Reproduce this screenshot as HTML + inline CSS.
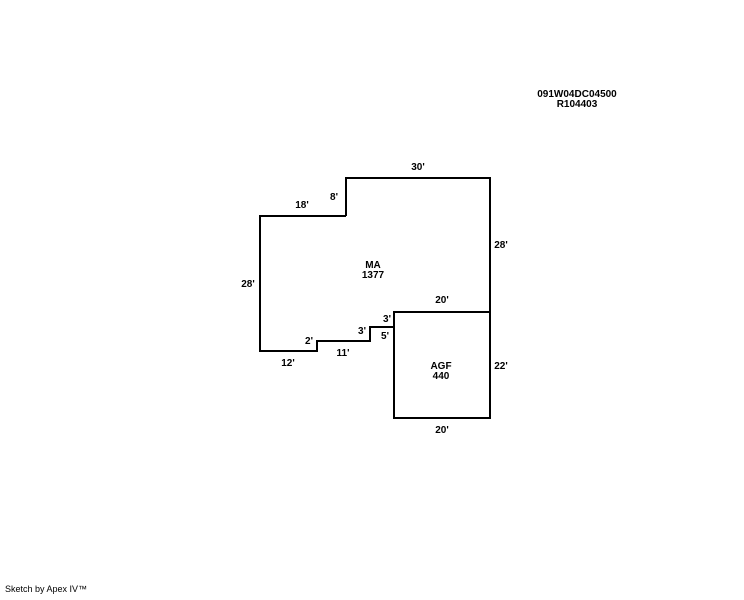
<!DOCTYPE html>
<html><head><style>
body{margin:0;background:#fff;width:744px;height:595px;overflow:hidden;}
svg text{font-family:"Liberation Sans",Arial,sans-serif;font-size:10px;font-weight:bold;fill:#000;}
</style></head><body>
<svg width="744" height="595" xmlns="http://www.w3.org/2000/svg">
<g fill="none" stroke="#000" stroke-width="2">
<polyline points="346,216 346,178 490,178 490,312"/>
<polyline points="346,216 260,216 260,351 317,351 317,341 370,341 370,327 394,327 394,312"/>
<rect x="394" y="312" width="96" height="106"/>
</g>
<text x="577" y="97" text-anchor="middle">091W04DC04500</text>
<text x="577" y="107" text-anchor="middle">R104403</text>
<text x="418" y="170" text-anchor="middle">30'</text>
<text x="334" y="200" text-anchor="middle">8'</text>
<text x="302" y="208" text-anchor="middle">18'</text>
<text x="501" y="248" text-anchor="middle">28'</text>
<text x="248" y="287" text-anchor="middle">28'</text>
<text x="373" y="268" text-anchor="middle">MA</text>
<text x="373" y="278" text-anchor="middle">1377</text>
<text x="442" y="303" text-anchor="middle">20'</text>
<text x="387" y="322" text-anchor="middle">3'</text>
<text x="362" y="334" text-anchor="middle">3'</text>
<text x="385" y="339" text-anchor="middle">5'</text>
<text x="309" y="344" text-anchor="middle">2'</text>
<text x="343" y="356" text-anchor="middle">11'</text>
<text x="288" y="366" text-anchor="middle">12'</text>
<text x="501" y="369" text-anchor="middle">22'</text>
<text x="441" y="369" text-anchor="middle">AGF</text>
<text x="441" y="379" text-anchor="middle">440</text>
<text x="442" y="433" text-anchor="middle">20'</text>
<text x="5" y="592" style="font-weight:normal;font-size:9px">Sketch by Apex IV™</text>
</svg>
</body></html>
